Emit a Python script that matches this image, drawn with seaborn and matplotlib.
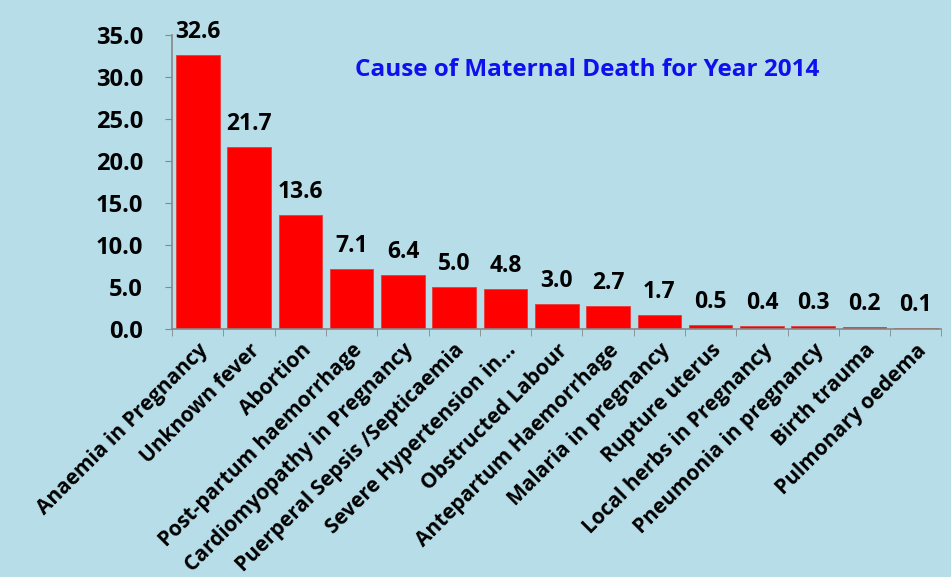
import pandas as pd
import seaborn as sns
import matplotlib.pyplot as plt

# dados
causes = ['Anaemia in Pregnancy', 'Unknown fever', 'Abortion', 'Post-partum haemorrhage',
          'Cardiomyopathy in Pregnancy', 'Puerperal Sepsis /Septicaemia', 'Severe Hypertension in...',
          'Obstructed Labour', 'Antepartum Haemorrhage', 'Malaria in pregnancy', 'Rupture uterus',
          'Local herbs in Pregnancy', 'Pneumonia in pregnancy', 'Birth trauma', 'Pulmonary oedema']
percent = [32.6, 21.7, 13.6, 7.1, 6.4, 5.0, 4.8, 3.0, 2.7, 1.7, 0.5, 0.4, 0.3, 0.2, 0.1]

df = pd.DataFrame({'cause': causes, 'percent': percent})

bg = '#b7dde8'
sns.set_style('ticks')
plt.rcParams['font.family'] = ['Open Sans', 'DejaVu Sans']
plt.rcParams['font.weight'] = 'bold'
plt.rcParams['text.color'] = 'black'
plt.rcParams['xtick.labelcolor'] = 'black'
plt.rcParams['ytick.labelcolor'] = 'black'

fig = plt.figure(figsize=(9.51, 5.77), dpi=100, facecolor=bg)
ax = fig.add_axes([0.181, 0.430, 0.809, 0.509])
ax.set_facecolor(bg)

sns.barplot(data=df, x='cause', y='percent', color='#ff0000', saturation=1,
            width=0.85, edgecolor='#e83a3a', linewidth=0.6, ax=ax)

for i, v in enumerate(percent):
    ax.text(i, v + 1.3, f'{v:.1f}', ha='center', va='bottom',
            fontsize=16.5, fontweight='bold', color='black')

ax.set_ylim(0, 35)
ax.set_xlim(-0.5, len(causes) - 0.5)
ax.set_yticks(range(0, 36, 5))
ax.set_yticklabels([f'{t:.1f}' for t in range(0, 36, 5)], fontsize=17, fontweight='bold')
ax.set_xticks([i - 0.5 for i in range(len(causes) + 1)], minor=True)
ax.set_xticks(range(len(causes)))
ax.set_xticklabels(causes, rotation=45, ha='right', rotation_mode='anchor',
                   fontsize=15, fontweight='bold')
ax.tick_params(axis='x', which='major', length=0, pad=8)
ax.tick_params(axis='x', which='minor', length=5, color='#888888')
ax.tick_params(axis='y', length=5, color='#888888', pad=16)
ax.set_xlabel('')
ax.set_ylabel('')
for s in ['top', 'right']:
    ax.spines[s].set_visible(False)
for s in ['left', 'bottom']:
    ax.spines[s].set_color('#888888')
    ax.spines[s].set_linewidth(1.2)

fig.text(0.617, 0.879, 'Cause of Maternal Death for Year 2014', ha='center', va='center',
         fontsize=17.5, fontweight='bold', color='#1010ee')

fig.savefig('out.png', dpi=100, facecolor=bg)
